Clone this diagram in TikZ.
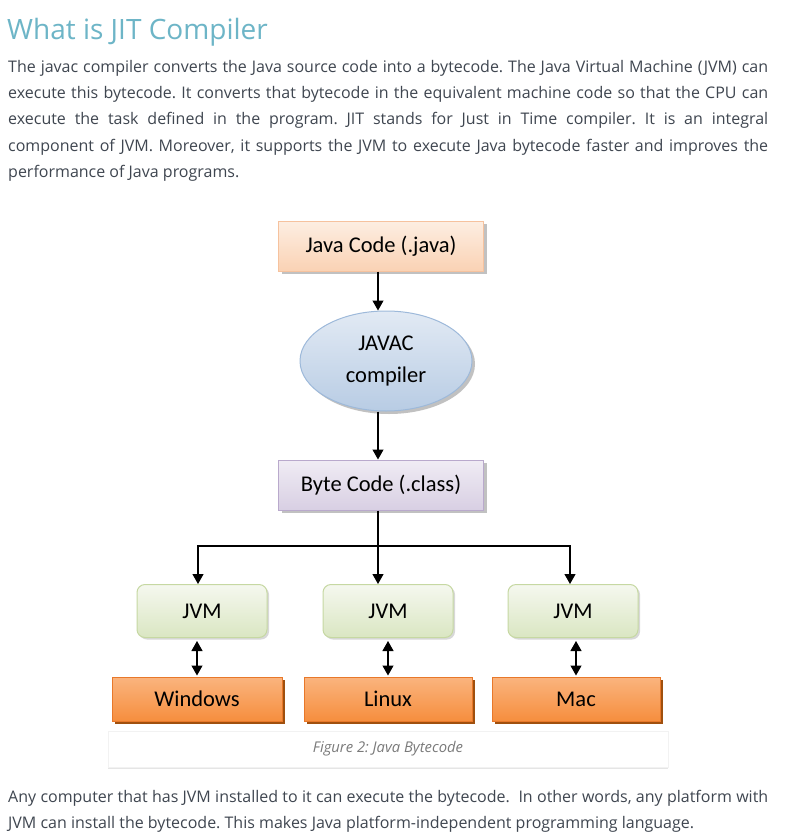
\documentclass[tikz,border=0pt]{standalone}
\usepackage{fontspec}
\setmainfont{Open Sans}
\newfontfamily\diagfont{Carlito}
\usepackage{tikz}
\usetikzlibrary{shapes,arrows.meta,positioning,calc,shadows}
\frenchspacing

\definecolor{headcol}{HTML}{6DB5C7}
\definecolor{textcol}{HTML}{3F4650}
\definecolor{srctop}{HTML}{FDEEE2}
\definecolor{srcbot}{HTML}{FAD2B4}
\definecolor{srcline}{HTML}{F6C29E}
\definecolor{comptop}{HTML}{E2EAF4}
\definecolor{compbot}{HTML}{B8CCE4}
\definecolor{compline}{HTML}{9DB9DA}
\definecolor{bytetop}{HTML}{F0ECF4}
\definecolor{bytebot}{HTML}{D8CFE3}
\definecolor{byteline}{HTML}{B9A9CC}
\definecolor{jvmtop}{HTML}{F5F8EF}
\definecolor{jvmbot}{HTML}{DAE6C2}
\definecolor{jvmline}{HTML}{C6D8A2}
\definecolor{ostop}{HTML}{FAB47E}
\definecolor{osbot}{HTML}{F68E3E}
\definecolor{osline}{HTML}{E8782A}
\definecolor{osshade}{HTML}{A0500E}
\definecolor{capcol}{HTML}{7A7A7A}

\begin{document}
\begin{tikzpicture}[x=1pt, y=-1pt,
    body/.style={anchor=base west, inner sep=0pt, text=textcol,
      font=\fontsize{16}{26}\selectfont},
    arr/.style={-{Triangle[width=11pt,length=10pt]}, line width=1.2pt},
    dblarr/.style={{Triangle[width=11pt,length=10pt]}-{Triangle[width=11pt,length=10pt]}, line width=1.2pt},
    codebox/.style={draw=srcline, line width=1pt, top color=srctop, bottom color=srcbot,
      minimum width=205pt, minimum height=50pt, font=\diagfont\fontsize{22.5}{26}\selectfont,
      drop shadow={shadow xshift=3pt, shadow yshift=-3pt, fill=black!40, opacity=.6}},
    jvmbox/.style={draw=jvmline, line width=1pt, top color=jvmtop, bottom color=jvmbot,
      rounded corners=8pt, minimum width=130pt, minimum height=53pt,
      font=\diagfont\fontsize{22.5}{26}\selectfont,
      drop shadow={shadow xshift=2pt, shadow yshift=-2pt, fill=black!30, opacity=.5}},
    osbox/.style={draw=osline, line width=1pt, top color=ostop, bottom color=osbot,
      minimum width=169pt, minimum height=44pt, font=\diagfont\fontsize{22.5}{26}\selectfont,
      drop shadow={shadow xshift=3pt, shadow yshift=-3pt, fill=osshade, opacity=1}}]

\useasboundingbox[fill=white] (0,0) rectangle (784,837);

% heading and text above the figure
\node (title) [anchor=base west, inner sep=0pt, text=headcol,
  font=\fontsize{28}{32}\selectfont] at (7,40) {What is JIT Compiler};
\node (p1) [body] at (8,73) {\makebox[760pt][s]{The javac compiler converts the Java source code into a bytecode. The Java Virtual Machine (JVM) can}};
\node (p2) [body] at (8,99) {\makebox[760pt][s]{execute this bytecode. It converts that bytecode in the equivalent machine code so that the CPU can}};
\node (p3) [body] at (8,125) {\makebox[760pt][s]{execute the task defined in the program. JIT stands for Just in Time compiler. It is an integral}};
\node (p4) [body] at (8,152) {\makebox[760pt][s]{component of JVM. Moreover, it supports the JVM to execute Java bytecode faster and improves the}};
\node (p5) [body] at (8,178) {performance of Java programs.};

% the figure
\node (java) [codebox] at (381,246) {Java Code (.java)};
\node (javac) [ellipse, draw=compline, line width=1pt, top color=comptop, bottom color=compbot,
  minimum width=172pt, minimum height=100pt, align=center,
  font=\diagfont\fontsize{22.5}{32}\selectfont,
  drop shadow={shadow xshift=3pt, shadow yshift=-3pt, fill=black!40, opacity=.6}]
  at (386,361) {JAVAC\\compiler};
\node (bc) [codebox, draw=byteline, top color=bytetop, bottom color=bytebot] at (381,485) {Byte Code (.class)};

\node (jvmA) [jvmbox] at (202,611) {JVM};
\node (jvmB) [jvmbox] at (388,611) {JVM};
\node (jvmC) [jvmbox] at (573,611) {JVM};

\node (win) [osbox, minimum width=170pt] at (197,699) {Windows};
\node (linux) [osbox, minimum width=168pt] at (388,699) {Linux};
\node (mac) [osbox, minimum width=168pt] at (576,699) {Mac};

\node (caption) [fill=white, draw=black!5, minimum width=560pt, minimum height=36pt, text=capcol,
  font=\itshape\fontsize{14.8}{17}\selectfont,
  drop shadow={shadow xshift=0pt, shadow yshift=-1.5pt, fill=black!20, opacity=.5}]
  at (388,749) {Figure 2: Java Bytecode};

\coordinate (fork) at (378,546);

\draw[arr] (java.south -| 378,0) -- (javac.north -| 378,0);
\draw[arr] (javac.south -| 378,0) -- (bc.north -| 378,0);
\draw[arr] (bc.south -| fork) -- (jvmB.north -| fork);
\draw[arr] (fork) -| ([xshift=-4pt]jvmA.north);
\draw[arr] (fork) -| ([xshift=-3pt]jvmC.north);

\draw[dblarr, shorten <=3pt, shorten >=1pt] (win.north |- jvmA.south) -- (win.north);
\draw[dblarr, shorten <=3pt, shorten >=1pt] (linux.north |- jvmB.south) -- (linux.north);
\draw[dblarr, shorten <=3pt, shorten >=1pt] (mac.north |- jvmC.south) -- (mac.north);

% text below the figure
\node (q1) [body] at (8,802) {\makebox[760pt][s]{Any computer that has JVM installed to it can execute the bytecode.\ \ In other words, any platform with}};
\node (q2) [body] at (8,828) {JVM can install the bytecode. This makes Java platform-independent programming language.};
\end{tikzpicture}
\end{document}
